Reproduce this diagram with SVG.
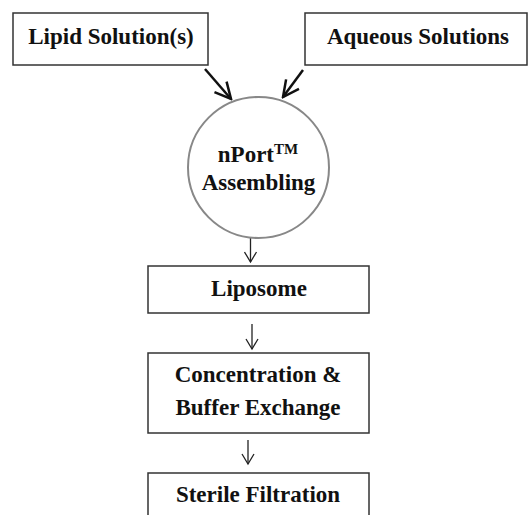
<svg xmlns="http://www.w3.org/2000/svg" width="528" height="515" viewBox="0 0 528 515">
<style>
.box{fill:#fff;stroke:#333;stroke-width:1.5}
.t{font-family:"Liberation Serif","Times New Roman",serif;font-weight:bold;font-size:23px;fill:#111;text-anchor:middle}
.thick{stroke:#111;stroke-width:2.5;fill:none}
.thin{stroke:#222;stroke-width:1.3;fill:none}
</style>
<defs>
<marker id="hb" viewBox="-20 -10 22 20" markerWidth="22" markerHeight="20" refX="0" refY="0" orient="auto" markerUnits="userSpaceOnUse">
<path d="M-16,-8 L0,0 L-16,8" fill="none" stroke="#111" stroke-width="2.5"/>
</marker>
<marker id="hs" viewBox="-12 -7 14 14" markerWidth="14" markerHeight="14" refX="0" refY="0" orient="auto" markerUnits="userSpaceOnUse">
<path d="M-10,-6 L0,0 L-10,6" fill="none" stroke="#222" stroke-width="1.3"/>
</marker>
</defs>
<rect width="528" height="515" fill="#fff"/>
<g id="connectors">
<line class="thick" x1="205" y1="69" x2="231" y2="99" marker-end="url(#hb)"/>
<line class="thick" x1="303" y1="70" x2="283" y2="97" marker-end="url(#hb)"/>
<line class="thin" x1="250.5" y1="238" x2="250.5" y2="262" marker-end="url(#hs)"/>
<line class="thin" x1="252" y1="324" x2="252" y2="349" marker-end="url(#hs)"/>
<line class="thin" x1="248" y1="440" x2="248" y2="464" marker-end="url(#hs)"/>
</g>
<g id="lipid">
<rect class="box" x="13" y="13" width="195" height="52"/>
<text class="t" x="111" y="44">Lipid Solution(s)</text>
</g>
<g id="aqueous">
<rect class="box" x="305" y="13" width="222" height="52"/>
<text class="t" x="418" y="44">Aqueous Solutions</text>
</g>
<g id="nport">
<circle cx="258.5" cy="167.5" r="70.5" fill="#fff" stroke="#888" stroke-width="2"/>
<text class="t" x="258" y="162">nPort<tspan font-size="15" dy="-8">TM</tspan></text>
<text class="t" x="258.5" y="190">Assembling</text>
</g>
<g id="liposome">
<rect class="box" x="148" y="266" width="221" height="47"/>
<text class="t" x="259" y="296">Liposome</text>
</g>
<g id="concentration">
<rect class="box" x="148" y="353" width="221" height="80"/>
<text class="t" x="258" y="382">Concentration &amp;</text>
<text class="t" x="258" y="415">Buffer Exchange</text>
</g>
<g id="sterile">
<rect class="box" x="148" y="473" width="221" height="50"/>
<text class="t" x="258" y="502">Sterile Filtration</text>
</g>
</svg>
